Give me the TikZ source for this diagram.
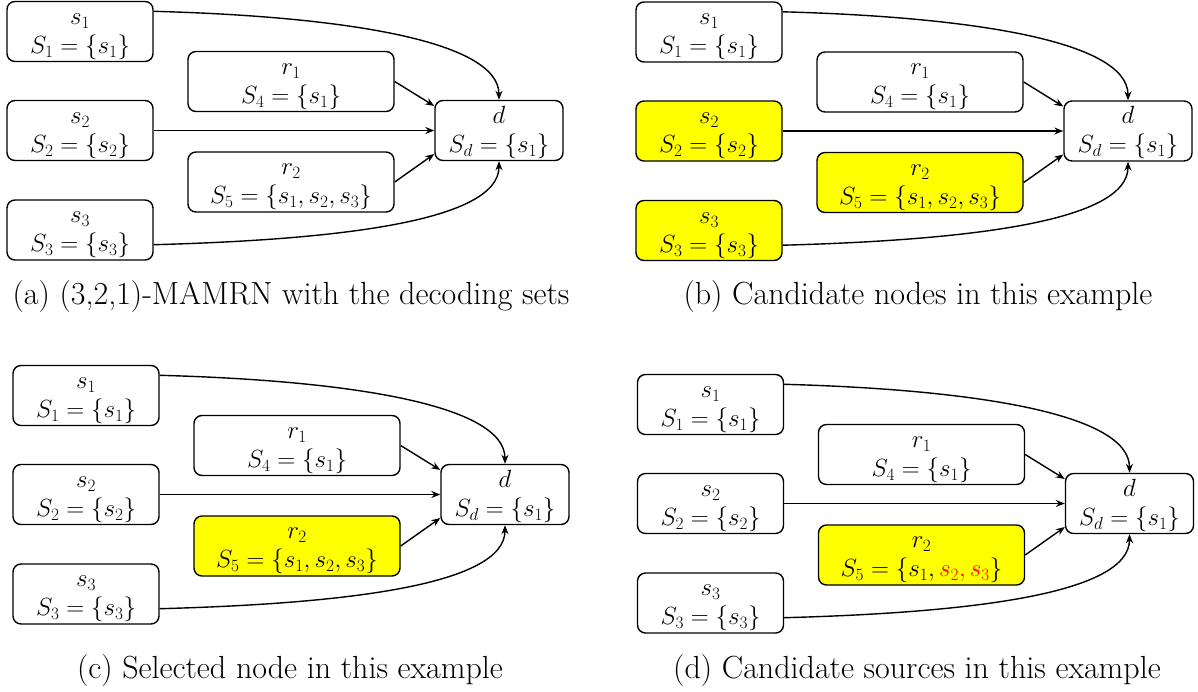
\documentclass[tikz,border=0pt]{standalone}
\usetikzlibrary{arrows.meta,calc}
\definecolor{hlyellow}{RGB}{255,255,0}
\definecolor{hlred}{RGB}{255,0,0}
\newcommand\boxfont{\fontsize{26}{29}\selectfont}
\newcommand\capfont{\fontsize{32}{38}\selectfont}
\newcommand\firstline{\rule{0pt}{21pt}}
\tikzset{
  box/.style={draw, line width=1.4pt, rounded corners=8pt, minimum width=146pt,
    minimum height=60pt, inner sep=0pt, align=center, font=\boxfont},
  widebox/.style={box, minimum width=206pt},
  dbox/.style={box, minimum width=128pt},
  hl/.style={fill=hlyellow},
  plain/.style={},
  link/.style={line width=1.4pt, -{Stealth[length=9pt,width=7pt]}},
  captext/.style={inner sep=0pt, font=\capfont},
}
\newcommand\drawpanel[7]{%
\begin{scope}[shift={(#2,#3)}]
  \node[box] (#1s1) at (80,31.5) {\firstline$s_1$\\$S_1=\{s_1\}$};
  \node[box,#4] (#1s2) at (80,130.5) {\firstline$s_2$\\$S_2=\{s_2\}$};
  \node[box,#5] (#1s3) at (80,230) {\firstline$s_3$\\$S_3=\{s_3\}$};
  \node[widebox] (#1r1) at (291,81.5) {\firstline$r_1$\\$S_4=\{s_1\}$};
  \node[widebox,#6] (#1r2) at (291,182) {\firstline$r_2$\\$S_5=\{#7\}$};
  \node[dbox] (#1d) at (499,130.5) {\firstline$d$\\$S_d=\{s_1\}$};
  \draw[link] ($(#1s1.north east)+(0,10.5)$) .. controls +(185,5) and +(0,-60) .. (#1d.north);
  \draw[link] ($(#1s3.south east)+(0,-16)$) .. controls +(185,-5) and +(0,60) .. (#1d.south);
  \draw[link] (#1s2.east) -- (#1d.west);
  \draw[link] (#1r1.east) -- ($(#1d.west)+(0,-24.5)$);
  \draw[link] (#1r2.east) -- ($(#1d.west)+(0,23.5)$);
\end{scope}}
\begin{document}
\begin{tikzpicture}[x=1pt,y=-1pt]
  \useasboundingbox (0,0) rectangle (1198,691);
  \drawpanel{a}{0}{0}{plain}{plain}{plain}{s_1,s_2,s_3}
  \drawpanel{b}{629}{0.5}{hl}{hl}{hl}{s_1,s_2,s_3}
  \drawpanel{c}{6}{364}{plain}{plain}{hl}{s_1,s_2,s_3}
  \drawpanel{d}{630.5}{373}{plain}{plain}{hl}{s_1,{\color{hlred}s_2,s_3}}
  \node[captext] (capa) at (291,297) {(a) (3,2,1)-MAMRN with the decoding sets};
  \node[captext] (capb) at (918,297) {(b) Candidate nodes in this example};
  \node[captext] (capc) at (290,671) {(c) Selected node in this example};
  \node[captext] (capd) at (917,671) {(d) Candidate sources in this example};
\end{tikzpicture}
\end{document}
